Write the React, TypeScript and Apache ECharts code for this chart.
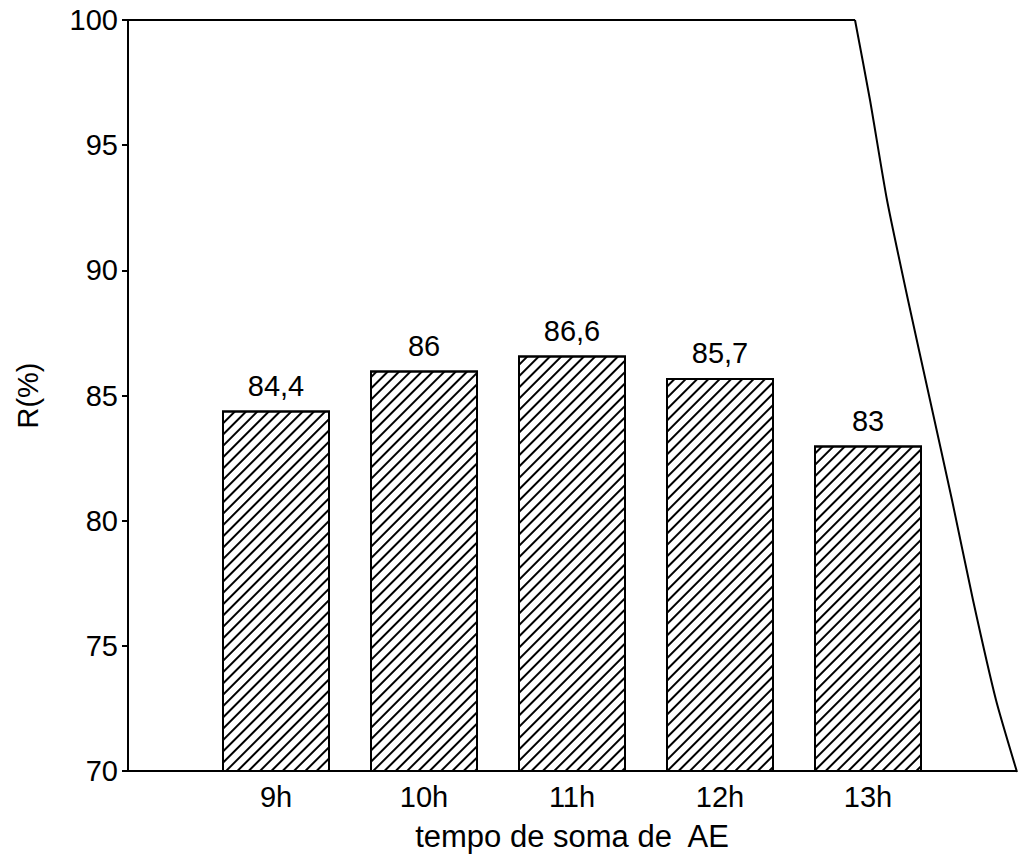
import React, { useEffect, useRef } from "react";
import * as echarts from "echarts";

const categories = ["", "9h", "10h", "11h", "12h", "13h", ""];
const values: (number | string)[] = ["-", 84.4, 86, 86.6, 85.7, 83, "-"];
const yMin = 70;
const yMax = 100;
const yInterval = 5;
const xAxisTitle = "tempo de soma de  AE";
const yAxisTitle = "R(%)";

const FONT = "'Liberation Sans', Arial, Helvetica, sans-serif";

export default function App() {
  const ref = useRef<HTMLDivElement>(null);
  useEffect(() => {
    if (!ref.current) return;
    const chart = echarts.init(ref.current, null, { renderer: "svg" });
    chart.setOption({
      animation: false,
      backgroundColor: "#ffffff",
      aria: { enabled: true, decal: { show: true } },
      textStyle: { fontFamily: FONT, color: "#000" },
      grid: { left: 128, right: 5, top: 20, bottom: 85, containLabel: false },
      xAxis: {
        type: "category",
        data: categories,
        boundaryGap: false,
        axisLine: { lineStyle: { color: "#000", width: 2 } },
        axisTick: { show: false },
        axisLabel: { fontSize: 29, color: "#000", margin: 11, fontFamily: FONT, interval: 0 },
        name: xAxisTitle,
        nameLocation: "middle",
        nameGap: 50,
        nameTextStyle: { fontSize: 31, color: "#000", fontFamily: FONT },
        splitLine: { show: false },
      },
      yAxis: {
        type: "value",
        min: yMin,
        max: yMax,
        interval: yInterval,
        axisLine: { show: true, lineStyle: { color: "#000", width: 2 } },
        axisTick: { show: true, length: 6, lineStyle: { color: "#000", width: 2 } },
        axisLabel: { fontSize: 29, color: "#000", margin: 10, fontFamily: FONT },
        splitLine: { show: false },
        name: yAxisTitle,
        nameLocation: "middle",
        nameRotate: 90,
        nameGap: 86,
        nameTextStyle: { fontSize: 29, color: "#000", fontFamily: FONT },
      },
      series: [
        {
          type: "bar",
          data: values,
          barWidth: 108,
          itemStyle: {
            color: "#fff",
            borderColor: "#000",
            borderWidth: 2,
            decal: {
              symbol: "rect",
              symbolSize: 1,
              dashArrayX: [1, 0],
              dashArrayY: [1.6, 5.4],
              rotation: -Math.PI / 4,
              color: "#000",
              backgroundColor: "#fff",
            },
          },
          label: {
            show: true,
            position: "top",
            distance: 10,
            fontSize: 29,
            color: "#000",
            fontFamily: FONT,
            formatter: (p: any) => String(p.value).replace(".", ","),
          },
        },
      ],
      graphic: [
        {
          type: "line",
          shape: { x1: 128, y1: 20, x2: 855, y2: 20 },
          style: { stroke: "#000", lineWidth: 2 },
          silent: true,
        },
        {
          type: "polyline",
          shape: {
            points: [
              [855, 20],
              [870, 100],
              [887, 200],
              [908, 300],
              [930, 400],
              [952, 500],
              [973, 600],
              [996, 700],
              [1017, 772],
            ],
            smooth: 0.2,
          },
          style: { stroke: "#000", lineWidth: 2, fill: "none" },
          silent: true,
        },
      ],
    });
    return () => chart.dispose();
  }, []);
  return (
    <div
      ref={ref}
      style={{ position: "absolute", left: 0, top: 0, width: 1021, height: 857, background: "#fff" }}
    />
  );
}
